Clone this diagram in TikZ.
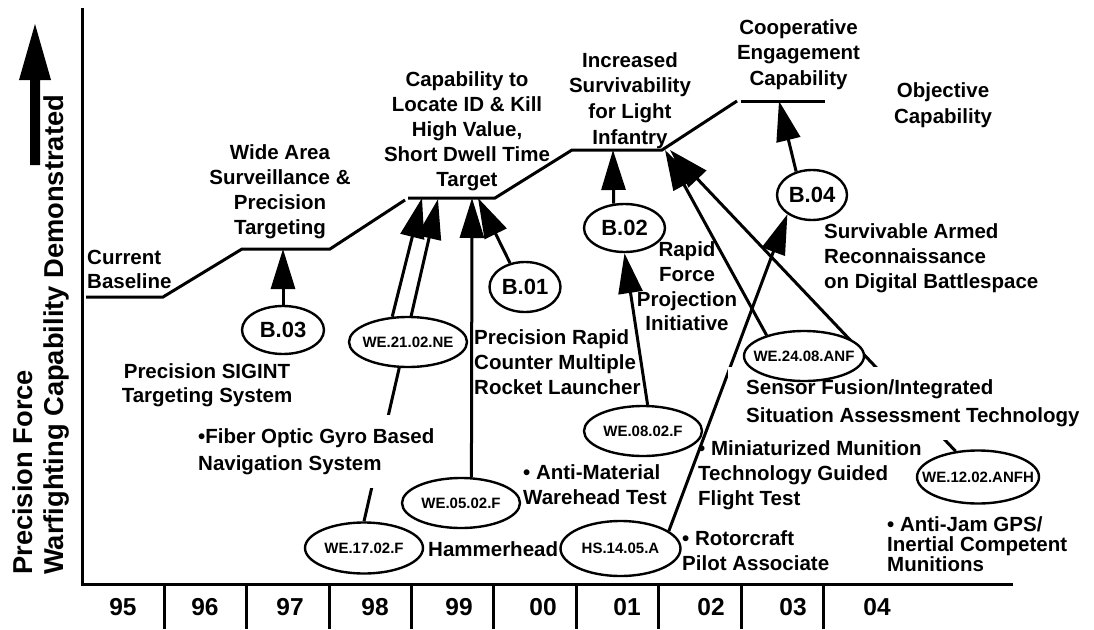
\documentclass[tikz,border=0pt]{standalone}
\usepackage{fontspec}
\setmainfont{Liberation Sans}
\usetikzlibrary{arrows.meta,shapes.geometric,backgrounds}

% bold label font with a chosen line spacing
\newcommand\lblfont[1]{\fontsize{20.5}{#1}\selectfont\bfseries}

\tikzset{
  txt/.style={font=\lblfont{25}, inner sep=0pt},
  yearlbl/.style={font=\fontsize{24.5}{29}\selectfont\bfseries, inner sep=0pt},
  oval/.style={ellipse, draw, line width=2.4pt, fill=white, inner xsep=-20pt, inner ysep=0pt},
  bnode/.style={oval, font=\fontsize{22}{26}\selectfont\bfseries},
  wenode/.style={oval, font=\fontsize{15}{18}\selectfont\bfseries, minimum width=118pt, minimum height=50pt},
  stair/.style={line width=3pt, line join=miter},
  conn/.style={line width=3pt, -{Triangle[length=40pt,width=24pt]}},
  axisline/.style={line width=3pt},
  blank/.style={fill=white, inner xsep=18pt, inner ysep=13pt},
}

\begin{document}
\begin{tikzpicture}[x=1pt,y=-1pt]
\useasboundingbox (0,0) rectangle (1094,629);

% ---- vertical axis: big arrow and title ----
\fill (35,24) -- (51,80) -- (40,80) -- (40,165) -- (30,165) -- (30,80) -- (19,80) -- cycle;
\node[rotate=90, anchor=north west, align=left, inner sep=0pt,
      font=\fontsize{27.3}{31}\selectfont\bfseries] (ytitle) at (12.5,575)
      {Precision Force\\Warfighting Capability Demonstrated};

% ---- year scale ----
\foreach \yr/\xx in {95/123,96/205,97/290,98/375,99/459,00/543,01/627,02/711,03/793,04/877}
  \node[yearlbl] (y\yr) at (\xx,607) {\yr};

% ---- capability staircase points ----
\coordinate (c0) at (86,297);
\coordinate (c1) at (163,297);
\coordinate (w0) at (242,249);
\coordinate (w1) at (330,249);
\coordinate (k0) at (405,200);
\coordinate (k1) at (408,198);
\coordinate (k2) at (495,198);
\coordinate (i0) at (572,150);
\coordinate (i1) at (662,150);
\coordinate (e0) at (737,101);
\coordinate (e1) at (741,101);
\coordinate (e2) at (825,101);

% arrow targets on the staircase
\coordinate (tW)  at (283,249);
\coordinate (tK1) at (422,198);
\coordinate (tK2) at (438,199);
\coordinate (tK3) at (472,198);
\coordinate (tK4) at (478,198);
\coordinate (tI1) at (613,150);
\coordinate (tI2) at (665,150);
\coordinate (tI3) at (670,150);
\coordinate (tE)  at (779,101);

% ---- capability levels ----
\node[txt, font=\lblfont{24}, align=left, anchor=north west] (base) at (87,249.6) {Current\\Baseline};
\node[txt, align=center, anchor=north] (wide) at (280,144.6) {Wide Area\\Surveillance \&\\Precision\\Targeting};
\node[txt, align=center, anchor=north] (kill) at (467,71) {Capability to\\Locate ID \& Kill\\High Value,\\Short Dwell Time\\Target};
\node[txt, font=\lblfont{25.7}, align=center, anchor=north] (surv) at (630,52.2) {Increased\\Survivability\\for Light\\Infantry};
\node[txt, font=\lblfont{25.4}, align=center, anchor=north] (coop) at (798.5,19.2) {Cooperative\\Engagement\\Capability};
\node[txt, font=\lblfont{25.5}, align=center, anchor=north] (obj) at (943,82.7) {Objective\\Capability};

% ---- program descriptions ----
\node[txt, font=\lblfont{24}, align=center, anchor=north] (sigint) at (207,363.7) {Precision SIGINT\\Targeting System};
\node[txt, blank, inner xsep=10pt, font=\lblfont{27.2}, align=left, anchor=north west] (fog) at (188,415.2) {•Fiber Optic Gyro Based\\Navigation System};
\node[txt, align=left, anchor=north west] (mlrs) at (474,329.7) {Precision Rapid\\Counter Multiple\\Rocket Launcher};
\node[txt, font=\lblfont{24.7}, align=center, anchor=north] (rfpi) at (687,241.7) {Rapid\\Force\\Projection\\Initiative};
\node[txt, align=left, anchor=north west] (sard) at (824,223.7) {Survivable Armed\\Reconnaissance\\on Digital Battlespace};
\node[txt, blank, font=\lblfont{28}, align=left, anchor=north west] (fusion) at (728,366.7) {Sensor Fusion/Integrated\\Situation Assessment Technology};
\node[txt, align=left, anchor=north west] (amw) at (523,464.7) {• Anti-Material\\Warehead Test};
\node[txt, align=left, anchor=north west] (mmt) at (698,440.7) {• Miniaturized Munition\\Technology Guided\\Flight Test};
\node[txt, align=left, anchor=north west] (rpa) at (682,530.7) {• Rotorcraft\\Pilot Associate};
\node[txt, font=\lblfont{20}, align=left, anchor=north west] (ajg) at (887,516.7) {• Anti-Jam GPS/\\Inertial Competent\\Munitions};
\node[txt, anchor=west] (hammer) at (428,549) {Hammerhead};

% ---- demonstration ovals ----
\node[bnode, minimum width=82pt, minimum height=48pt] (b03) at (283,330) {B.03};
\node[bnode, minimum width=71pt, minimum height=50pt] (b01) at (525,287) {B.01};
\node[bnode, minimum width=81pt, minimum height=48pt] (b02) at (624.5,228) {B.02};
\node[bnode, minimum width=70pt, minimum height=50pt] (b04) at (812,195) {B.04};
\node[wenode] (we21) at (408,342) {WE.21.02.NE};
\node[wenode, minimum height=51pt] (we17) at (364,548) {WE.17.02.F};
\node[wenode] (we05) at (461,503) {WE.05.02.F};
\node[wenode] (we08) at (643,431) {WE.08.02.F};
\node[wenode, minimum width=120pt, minimum height=55pt] (hs14) at (620.5,548.5) {HS.14.05.A};
\node[wenode, minimum width=120pt] (we24) at (804,356) {WE.24.08.ANF};
\node[wenode, minimum width=122pt, minimum height=53pt] (we12) at (978,477) {WE.12.02.ANFH};

% ---- lines beneath the labels ----
\begin{scope}[on background layer]
  \fill[white] (0,0) rectangle (1094,629);
  % axes and year separators
  \draw[axisline] (82,8) -- (82,584) -- (1013,584);
  \foreach \k in {0,...,8}
    \draw[axisline] ({164.2+82.4*\k},584) -- ({164.2+82.4*\k},629);
  % staircase
  \draw[stair] (c0) -- (c1) -- (w0) -- (w1) -- (k0);
  \draw[stair] (k1) -- (k2) -- (i0) -- (i1) -- (e0);
  \draw[stair] (e1) -- (e2);
  % contributions
  \draw[conn] (b03.north) -- (tW);
  \draw[conn] (we21.122) -- (tK1);
  \draw[conn] (we17.north) -- (tK2);
  \draw[conn] (we05.68) -- (tK3);
  \draw[conn] (b01.122) -- (tK4);
  \draw[conn] (b02.114) -- (tI1);
  \draw[conn] (we08.80) -- (b02.south);
  \draw[conn] (hs14.20) -- (b04.218);
  \draw[conn] (we24.151) -- (tI2);
  \draw[conn] (we12.131) -- (tI3);
  \draw[conn] (b04.124) -- (tE);
\end{scope}
\end{tikzpicture}
\end{document}
